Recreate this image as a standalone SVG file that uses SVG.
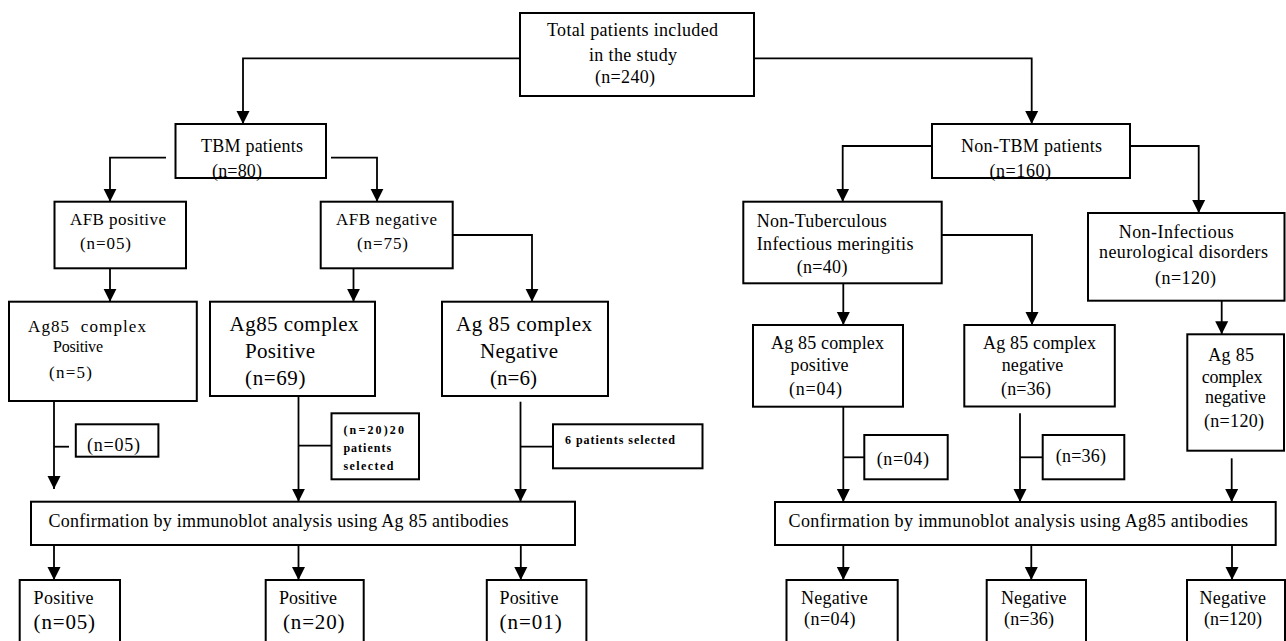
<svg xmlns="http://www.w3.org/2000/svg" width="1286" height="641" viewBox="0 0 1286 641">
<style>
.box{fill:#fff;stroke:#000;stroke-width:2}
.ln{fill:none;stroke:#000;stroke-width:1.8}
.ar{marker-end:url(#ah)}
text{font-family:"Liberation Serif","Times New Roman",serif;fill:#000;font-size:18px}
.s16{font-size:16px}
.s17{font-size:17px}
.s21{font-size:21px}
.s12{font-size:12px;font-weight:bold}
</style>
<defs>
<marker id="ah" markerUnits="userSpaceOnUse" markerWidth="14" markerHeight="14" viewBox="0 0 14 14" refX="13" refY="7" orient="auto">
<path d="M0,0.5 L13,7 L0,13.5 z" fill="#000"/>
</marker>
</defs>
<rect width="1286" height="641" fill="#fff"/>

<g id="connectors">
<path class="ln ar" d="M520,58.3 H243 V124"/>
<path class="ln ar" d="M754,58.3 H1031.7 V124"/>
<path class="ln ar" d="M166,157.7 H110 V201.7"/>
<path class="ln ar" d="M331,157.7 H377 V201.7"/>
<path class="ln ar" d="M932,146 H842.7 V201.7"/>
<path class="ln ar" d="M1130,146 H1198.7 V213"/>
<path class="ln ar" d="M110,268.3 V301.7"/>
<path class="ln ar" d="M353.5,268.3 V301.7"/>
<path class="ln ar" d="M452.7,235 H532 V301.7"/>
<path class="ln ar" d="M843.3,279.3 V325"/>
<path class="ln ar" d="M941.7,235 H1032 V325"/>
<path class="ln ar" d="M1221.7,300.7 V334.3"/>
<path class="ln ar" d="M54,401 V489"/>
<path class="ln" d="M54,446.7 H69"/>
<path class="ln ar" d="M298.5,390 V501.7"/>
<path class="ln" d="M298.5,445.7 H331.5"/>
<path class="ln ar" d="M520.5,401.7 V501.7"/>
<path class="ln" d="M520.5,446.7 H553"/>
<path class="ln ar" d="M843.3,401.7 V502"/>
<path class="ln" d="M843.3,457.3 H864.3"/>
<path class="ln ar" d="M1020,413.3 V502"/>
<path class="ln" d="M1020,457.3 H1042.7"/>
<path class="ln ar" d="M1231.7,458.3 V502"/>
<path class="ln ar" d="M54,545 V580"/>
<path class="ln ar" d="M298.5,545 V580"/>
<path class="ln ar" d="M520.8,545 V580"/>
<path class="ln ar" d="M843.3,545 V580"/>
<path class="ln ar" d="M1031.3,545 V580"/>
<path class="ln ar" d="M1232,545 V580"/>
</g>

<g id="total">
<rect class="box" x="520" y="13" width="234" height="83"/>
<text x="547" y="36" textLength="171" lengthAdjust="spacing">Total patients included</text>
<text x="589" y="61" textLength="88" lengthAdjust="spacing">in the study</text>
<text x="595" y="83" textLength="60" lengthAdjust="spacing">(n=240)</text>
</g>

<g id="tbm">
<rect class="box" x="175.5" y="124" width="150.5" height="54"/>
<text x="201" y="152" textLength="102" lengthAdjust="spacing">TBM patients</text>
<text x="212" y="177" textLength="50" lengthAdjust="spacing">(n=80)</text>
</g>

<g id="nontbm">
<rect class="box" x="932" y="124" width="198" height="54"/>
<text x="961" y="152" textLength="141" lengthAdjust="spacing">Non-TBM patients</text>
<text x="989.5" y="177" textLength="61.5" lengthAdjust="spacing">(n=160)</text>
</g>

<g id="afbpos">
<rect class="box" x="54.5" y="201.7" width="131.5" height="66.6"/>
<text class="s17" x="70" y="225" textLength="96" lengthAdjust="spacing">AFB positive</text>
<text class="s17" x="80" y="249" textLength="51" lengthAdjust="spacing">(n=05)</text>
</g>

<g id="afbneg">
<rect class="box" x="320.7" y="201.7" width="132" height="66.6"/>
<text class="s17" x="336" y="225" textLength="101" lengthAdjust="spacing">AFB negative</text>
<text class="s17" x="357" y="249" textLength="51" lengthAdjust="spacing">(n=75)</text>
</g>

<g id="nontub">
<rect class="box" x="743.3" y="201.7" width="198.4" height="81.6"/>
<text x="756.7" y="226.7" textLength="130" lengthAdjust="spacing">Non-Tuberculous</text>
<text x="756.7" y="250" textLength="156.7" lengthAdjust="spacing">Infectious meringitis</text>
<text x="796.7" y="273" textLength="50.7" lengthAdjust="spacing">(n=40)</text>
</g>

<g id="noninf">
<rect class="box" x="1088" y="213" width="196.5" height="87.7"/>
<text x="1118.7" y="238" textLength="115" lengthAdjust="spacing">Non-Infectious</text>
<text x="1099" y="258" textLength="169" lengthAdjust="spacing">neurological disorders</text>
<text x="1155" y="284" textLength="61" lengthAdjust="spacing">(n=120)</text>
</g>

<g id="ag85pos1">
<rect class="box" x="9" y="301.7" width="187.8" height="99.3"/>
<text class="s17" x="28" y="331.7" textLength="118" lengthAdjust="spacing" xml:space="preserve">Ag85  complex</text>
<text class="s16" x="53" y="352" textLength="50" lengthAdjust="spacing">Positive</text>
<text class="s17" x="49" y="378.3" textLength="43" lengthAdjust="spacing">(n=5)</text>
</g>

<g id="ag85pos2">
<rect class="box" x="210" y="301.7" width="165" height="94.3"/>
<text class="s21" x="229.6" y="331" textLength="129" lengthAdjust="spacing">Ag85 complex</text>
<text class="s21" x="245" y="358" textLength="70" lengthAdjust="spacing">Positive</text>
<text class="s21" x="245" y="385" textLength="60.5" lengthAdjust="spacing">(n=69)</text>
</g>

<g id="ag85neg1">
<rect class="box" x="442" y="301.7" width="166" height="94.3"/>
<text class="s21" x="456" y="331" textLength="136" lengthAdjust="spacing">Ag 85 complex</text>
<text class="s21" x="480" y="358" textLength="78" lengthAdjust="spacing">Negative</text>
<text class="s21" x="490" y="385" textLength="47" lengthAdjust="spacing">(n=6)</text>
</g>

<g id="ag85pos3">
<rect class="box" x="753" y="325" width="150" height="81.7"/>
<text x="771" y="349" textLength="113" lengthAdjust="spacing">Ag 85 complex</text>
<text x="790.6" y="371" textLength="58" lengthAdjust="spacing">positive</text>
<text x="789" y="395" textLength="53" lengthAdjust="spacing">(n=04)</text>
</g>

<g id="ag85neg3">
<rect class="box" x="964.3" y="325" width="150.5" height="81.5"/>
<text x="983" y="349" textLength="113" lengthAdjust="spacing">Ag 85 complex</text>
<text x="1001.8" y="371" textLength="61.5" lengthAdjust="spacing">negative</text>
<text x="1001" y="395" textLength="50" lengthAdjust="spacing">(n=36)</text>
</g>

<g id="ag85neg4">
<rect class="box" x="1187.3" y="334.3" width="96.7" height="116.4"/>
<text x="1208.3" y="361" textLength="45.7" lengthAdjust="spacing">Ag 85</text>
<text x="1201.7" y="383.3" textLength="60.7" lengthAdjust="spacing">complex</text>
<text x="1205" y="403.3" textLength="60.7" lengthAdjust="spacing">negative</text>
<text x="1204" y="426.7" textLength="60" lengthAdjust="spacing">(n=120)</text>
</g>

<g id="ann1">
<rect class="box" x="75.8" y="424.3" width="82.6" height="32.4"/>
<text x="87" y="450.5" textLength="53" lengthAdjust="spacing">(n=05)</text>
</g>

<g id="ann2">
<rect class="box" x="331.5" y="413.3" width="87.5" height="66"/>
<text class="s12" x="343.4" y="434" textLength="60.6" lengthAdjust="spacing">(n=20)20</text>
<text class="s12" x="343.4" y="452" textLength="47.7" lengthAdjust="spacing">patients</text>
<text class="s12" x="343.4" y="470" textLength="50" lengthAdjust="spacing">selected</text>
</g>

<g id="ann3">
<rect class="box" x="553" y="424.3" width="149.5" height="44"/>
<text class="s12" x="565" y="444" textLength="110" lengthAdjust="spacing">6 patients selected</text>
</g>

<g id="ann4">
<rect class="box" x="864.3" y="435" width="83.4" height="44.3"/>
<text x="876.7" y="465" textLength="52.3" lengthAdjust="spacing">(n=04)</text>
</g>

<g id="ann5">
<rect class="box" x="1042.7" y="435" width="81.6" height="44.3"/>
<text x="1055.7" y="462" textLength="50.3" lengthAdjust="spacing">(n=36)</text>
</g>

<g id="conf1">
<rect class="box" x="31" y="501.7" width="544" height="43.3"/>
<text x="48.4" y="527" textLength="460" lengthAdjust="spacing">Confirmation by immunoblot analysis using Ag 85 antibodies</text>
</g>

<g id="conf2">
<rect class="box" x="775" y="502" width="500.7" height="43"/>
<text x="788.6" y="527" textLength="459.4" lengthAdjust="spacing">Confirmation by immunoblot analysis using Ag85 antibodies</text>
</g>

<g id="pos05">
<rect class="box" x="19.7" y="580" width="100.3" height="70"/>
<text x="33.6" y="604" textLength="60" lengthAdjust="spacing">Positive</text>
<text class="s21" x="33.6" y="629" textLength="61.4" lengthAdjust="spacing">(n=05)</text>
</g>

<g id="pos20">
<rect class="box" x="265.7" y="580" width="98" height="70"/>
<text x="279" y="604" textLength="58" lengthAdjust="spacing">Positive</text>
<text class="s21" x="283" y="629" textLength="61.5" lengthAdjust="spacing">(n=20)</text>
</g>

<g id="pos01">
<rect class="box" x="486.8" y="580" width="99.6" height="70"/>
<text x="499.5" y="604" textLength="59" lengthAdjust="spacing">Positive</text>
<text class="s21" x="499.5" y="629" textLength="62.3" lengthAdjust="spacing">(n=01)</text>
</g>

<g id="neg04">
<rect class="box" x="786.5" y="580" width="111.2" height="70"/>
<text x="800.9" y="604" textLength="66.8" lengthAdjust="spacing">Negative</text>
<text x="804" y="625" textLength="51.4" lengthAdjust="spacing">(n=04)</text>
</g>

<g id="neg36">
<rect class="box" x="986.7" y="580" width="99.3" height="70"/>
<text x="1001" y="604" textLength="65.6" lengthAdjust="spacing">Negative</text>
<text x="1004" y="625" textLength="50" lengthAdjust="spacing">(n=36)</text>
</g>

<g id="neg120">
<rect class="box" x="1187" y="580" width="98" height="70"/>
<text x="1199.5" y="604" textLength="66.5" lengthAdjust="spacing">Negative</text>
<text x="1204" y="625" textLength="58" lengthAdjust="spacing">(n=120)</text>
</g>
</svg>
